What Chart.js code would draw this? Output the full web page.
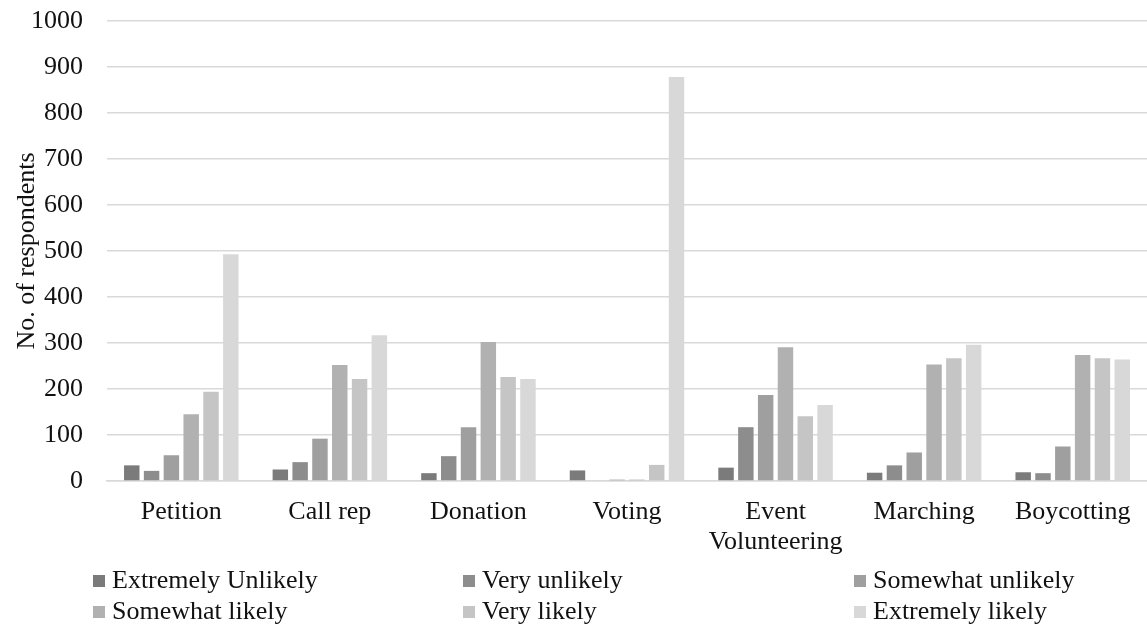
<!DOCTYPE html>
<html>
<head>
<meta charset="utf-8">
<script src="https://cdn.jsdelivr.net/npm/chart.js@4/dist/chart.umd.min.js"></script>
<style>
  html, body { margin: 0; padding: 0; background: #ffffff; }
  #wrap { width: 1147px; height: 633px; position: relative; }
</style>
</head>
<body>
<div id="wrap"><canvas id="c" width="1147" height="633"></canvas></div>
<script>
// Actions people would take, and how likely respondents said they were to take them
const categories = ['Petition', 'Call rep', 'Donation', 'Voting', ['Event', 'Volunteering'], 'Marching', 'Boycotting'];

const extremelyUnlikely = [34, 25, 17, 23, 29, 18, 19];
const veryUnlikely      = [22, 41, 54, 0, 117, 34, 17];
const somewhatUnlikely  = [56, 92, 117, 3, 187, 62, 75];
const somewhatLikely    = [145, 252, 302, 3, 291, 253, 274];
const veryLikely        = [194, 222, 226, 35, 141, 267, 267];
const extremelyLikely   = [493, 317, 222, 878, 165, 296, 264];

const seriesNames = ['Extremely Unlikely', 'Very unlikely', 'Somewhat unlikely',
                     'Somewhat likely', 'Very likely', 'Extremely likely'];
const seriesValues = [extremelyUnlikely, veryUnlikely, somewhatUnlikely,
                      somewhatLikely, veryLikely, extremelyLikely];
const seriesColors = ['#7b7b7b', '#8d8d8d', '#9f9f9f', '#b1b1b1', '#c5c5c5', '#d8d8d8'];

const yTicks = [0, 100, 200, 300, 400, 500, 600, 700, 800, 900, 1000];
const yTitle = 'No. of respondents';

const FONT = '"Liberation Serif", "Times New Roman", serif';
const TEXT = '#111111';

// Three-column legend laid out underneath the axis labels
const columnLegend = {
  id: 'columnLegend',
  afterDraw(chart) {
    const ctx = chart.ctx;
    const cols = [93, 463, 854];
    const rows = [581, 612];
    const box = 12;
    ctx.save();
    ctx.font = '26px ' + FONT;
    ctx.textBaseline = 'middle';
    ctx.textAlign = 'left';
    chart.data.datasets.forEach((ds, i) => {
      const x = cols[i % 3];
      const y = rows[Math.floor(i / 3)];
      ctx.fillStyle = ds.backgroundColor;
      ctx.fillRect(x, y - box / 2, box, box);
      ctx.fillStyle = TEXT;
      ctx.fillText(ds.label, x + 19, y);
    });
    ctx.restore();
  }
};

new Chart(document.getElementById('c'), {
  type: 'bar',
  data: {
    labels: categories,
    datasets: seriesNames.map((name, i) => ({
      label: name,
      data: seriesValues[i],
      backgroundColor: seriesColors[i],
      borderWidth: 0,
      categoryPercentage: 0.8,
      barPercentage: 0.78
    }))
  },
  options: {
    responsive: false,
    animation: false,
    devicePixelRatio: 1,
    layout: { padding: { top: 21, right: 0, bottom: 70, left: 0 } },
    plugins: {
      legend: { display: false },
      tooltip: { enabled: false }
    },
    scales: {
      x: {
        grid: { display: false, drawTicks: false },
        border: { display: true, color: '#d9d9d9', width: 1.5 },
        ticks: {
          color: TEXT,
          font: { family: FONT, size: 26, lineHeight: 1.15 },
          padding: 16,
          maxRotation: 0,
          autoSkip: false
        },
        afterFit(scale) { scale.height = 82; }
      },
      y: {
        min: 0,
        max: 1000,
        afterBuildTicks(scale) { scale.ticks = yTicks.map(v => ({ value: v })); },
        grid: { color: '#d9d9d9', lineWidth: 1.5, drawTicks: false },
        border: { display: false },
        ticks: {
          color: TEXT,
          font: { family: FONT, size: 26 },
          padding: 24,
          callback: (v) => String(v)
        },
        title: {
          display: true,
          text: yTitle,
          color: TEXT,
          font: { family: FONT, size: 26 },
          padding: { top: 12, bottom: 0 }
        },
        afterFit(scale) {
          scale.width = 107;
          scale.paddingTop = 0;
          scale.paddingBottom = 0;
        }
      }
    }
  },
  plugins: [columnLegend]
});
</script>
</body>
</html>
